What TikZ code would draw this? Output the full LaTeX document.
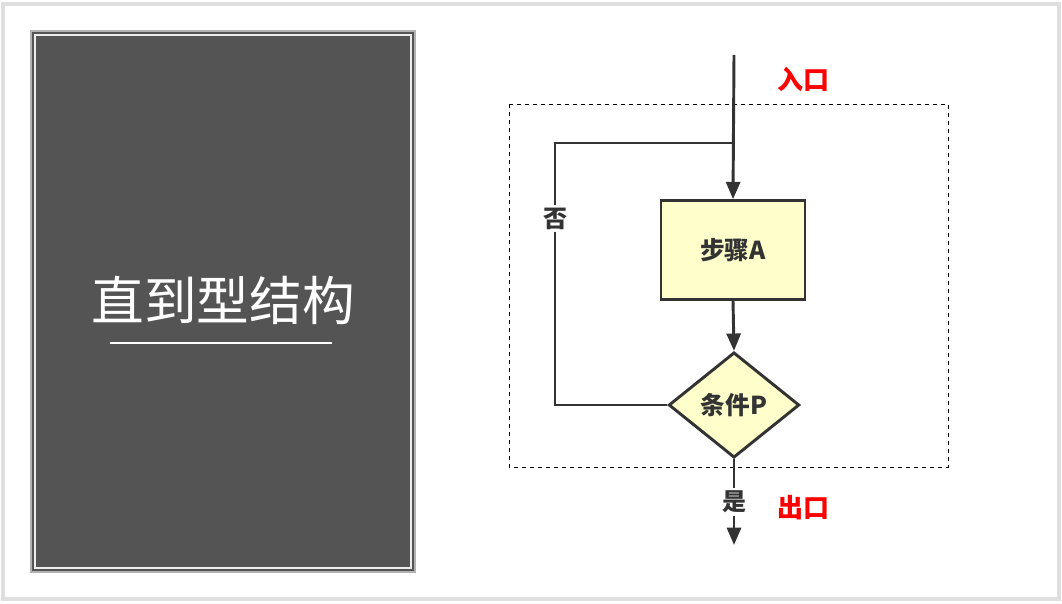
\documentclass[tikz,border=0pt]{standalone}
\usepackage{fontspec}
\newfontfamily\cjk{Noto Sans CJK SC}
\usetikzlibrary{shapes.geometric,arrows.meta}
\definecolor{panelgray}{HTML}{545454}
\definecolor{linegray}{HTML}{333333}
\definecolor{boxyellow}{HTML}{FFFFCC}
\definecolor{redlabel}{HTML}{FF0000}
\begin{document}
\begin{tikzpicture}[x=0.75pt,y=-0.75pt,
    flow/.style={draw=linegray, line width=2.2pt},
    arr/.style={flow, -{Triangle[length=13pt,width=10.5pt]}},
    stepbox/.style={draw=linegray, line width=2.2pt, fill=boxyellow, rectangle,
        minimum width=108pt, minimum height=74pt, inner sep=0pt, font=\cjk\bfseries\fontsize{18.5}{18.5}\selectfont, text=linegray},
    testbox/.style={draw=linegray, line width=2.2pt, fill=boxyellow, diamond,
        minimum width=98pt, minimum height=79pt, inner sep=0pt, font=\cjk\bfseries\fontsize{18.5}{18.5}\selectfont, text=linegray},
    lab/.style={fill=white, inner sep=2pt, font=\cjk\bfseries\fontsize{18}{18}\selectfont, text=linegray},
    portlab/.style={font=\cjk\bfseries\fontsize{19.5}{19.5}\selectfont, text=redlabel}]
    \useasboundingbox (0,0) rectangle (1062,603);
    % frame and left panel
    \draw[gray!25, line width=2.5pt] (3,4) rectangle (1059,599);
    \draw[gray!60, fill=panelgray, line width=1pt] (31,31) rectangle (415,572);
    \draw[white!85!gray, line width=1.2pt] (35,35) rectangle (411,568);
    \node[text=white, font=\cjk\fontsize{39.5}{39.5}\selectfont] (title) at (223,300) {直到型结构};
    \draw[white, line width=1.2pt] (110,343) -- (332,343);

    % flowchart
    \draw[dashed, black, line width=0.6pt] (509,104) rectangle (948,467);
    \node[stepbox] (stepA) at (733,250) {步骤A};
    \node[testbox] (condP) at (734,405) {条件P};
    \coordinate (in) at (734,55);
    \coordinate (join) at (734,143);
    \coordinate (loopbl) at (555,405);
    \coordinate (out) at (734,545);
    \node[portlab] (inlabel) at (803,79) {入口};
    \node[portlab] (outlabel) at (803,508) {出口};

    \draw[arr] (in) -- (stepA.north);
    \draw[arr] (stepA.south) -- (condP.north);
    \draw[flow] (condP.west) -- (loopbl) -- node[lab, pos=0.71] {否} (loopbl |- join) -- (join);
    \draw[arr] (condP.south) -- node[lab, pos=0.5] {是} (out);
\end{tikzpicture}
\end{document}
